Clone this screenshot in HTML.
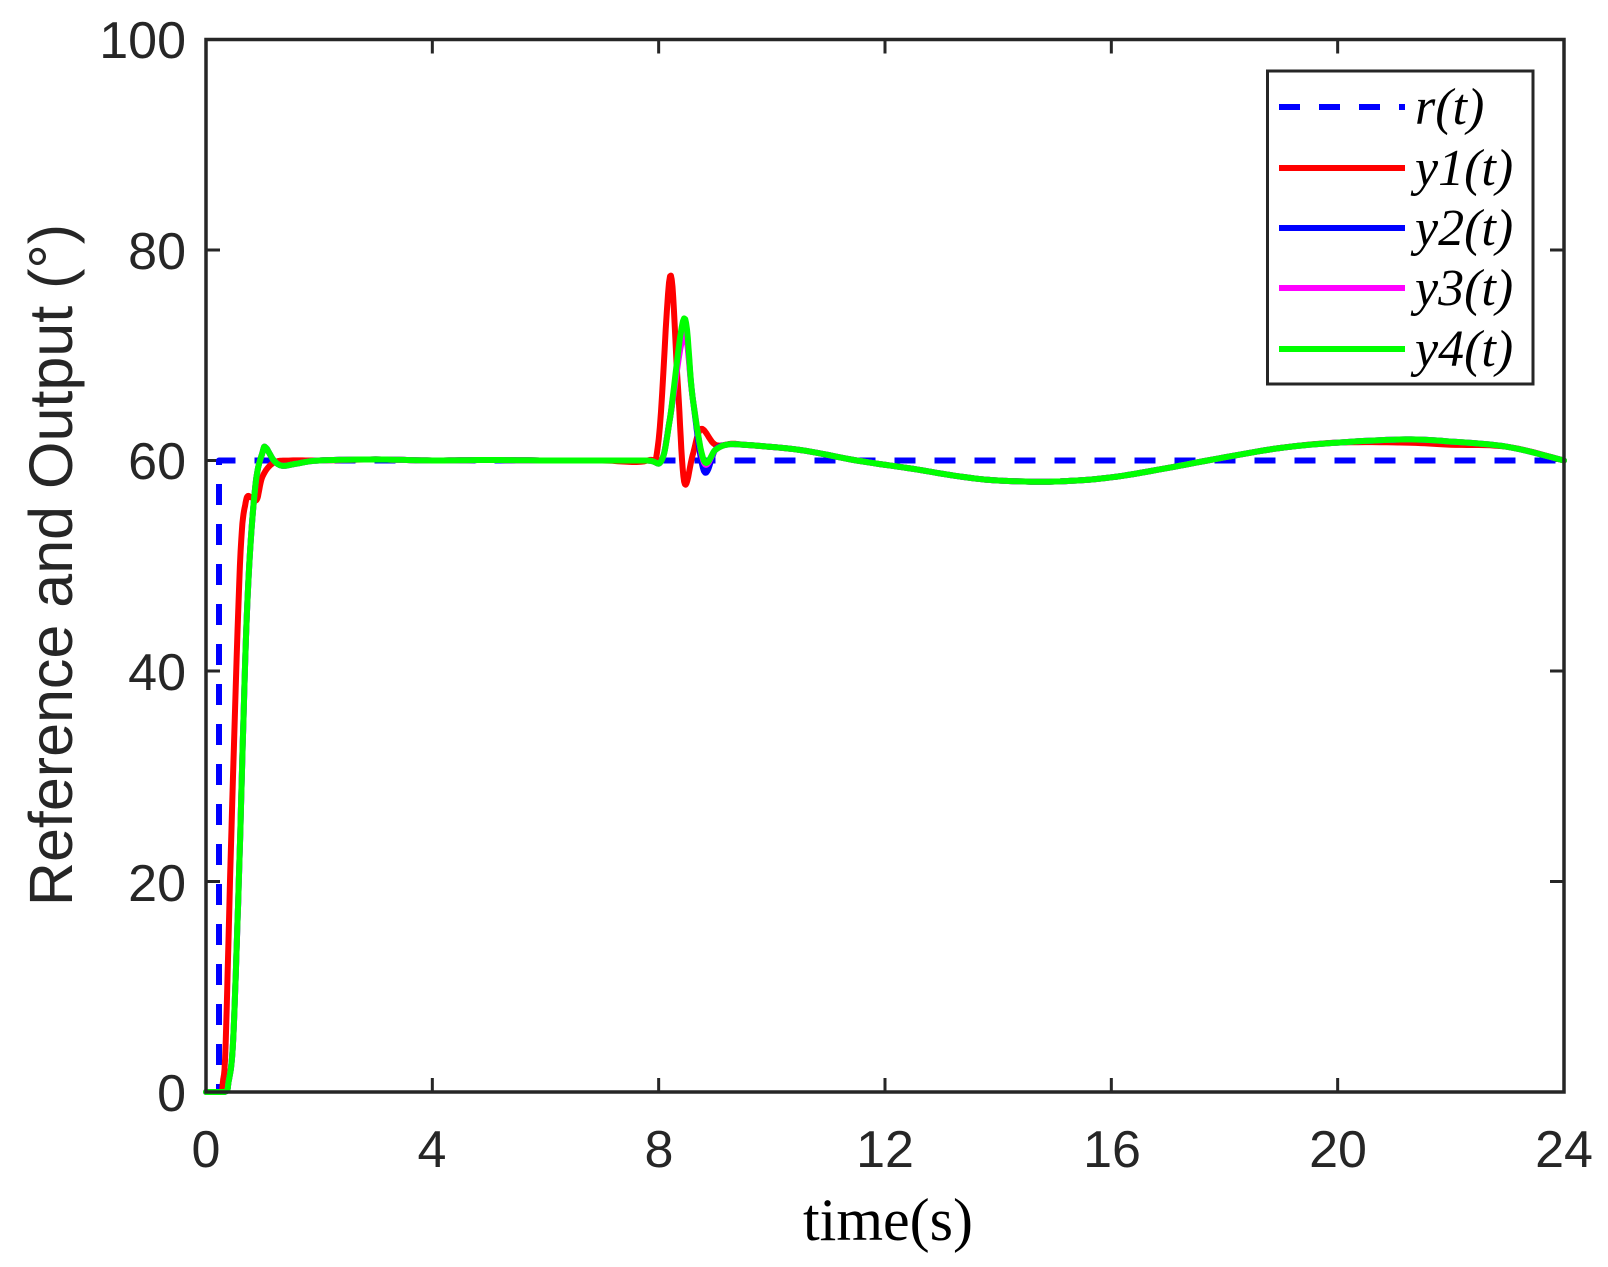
<!DOCTYPE html>
<html><head><meta charset="utf-8"><style>
body{margin:0;background:#fff;}
svg{display:block;}
.t{font-family:"Liberation Sans",sans-serif;font-size:52px;fill:#262626;}
.m{font-family:"Liberation Serif",serif;font-size:52px;fill:#000;font-style:italic;}
</style></head><body>
<svg id="s" width="1608" height="1267" viewBox="0 0 1608 1267" xmlns="http://www.w3.org/2000/svg">
<rect width="1608" height="1267" fill="#fff"/>
<g id="ticks" stroke="#262626" stroke-width="3"></g>
<g id="curves" fill="none" stroke-width="6" stroke-linejoin="round" stroke-linecap="round"></g>
<rect x="206" y="39.5" width="1358" height="1052.5" fill="none" stroke="#262626" stroke-width="3.5"/>
<g class="t" text-anchor="middle">
<text x="206" y="1167">0</text><text x="432" y="1167">4</text><text x="659" y="1167">8</text>
<text x="885" y="1167">12</text><text x="1112" y="1167">16</text><text x="1338" y="1167">20</text><text x="1564" y="1167">24</text>
</g>
<g class="t" text-anchor="end">
<text x="186" y="1111">0</text><text x="186" y="901">20</text><text x="186" y="690">40</text>
<text x="186" y="479">60</text><text x="186" y="269">80</text><text x="186" y="58">100</text>
</g>
<text class="t" style="font-size:61px" transform="translate(72,565) rotate(-90)" text-anchor="middle">Reference and Output (°)</text>
<text x="888" y="1240" text-anchor="middle" style="font-family:'Liberation Serif',serif;font-size:60px;fill:#000">time(s)</text>
<rect x="1267.5" y="71" width="265.5" height="313" fill="#fff" stroke="#262626" stroke-width="3"/>
<line x1="1279" y1="107" x2="1405" y2="107" stroke="#0000ff" stroke-width="6" stroke-dasharray="21 19"/>
<line x1="1279" y1="168" x2="1405" y2="168" stroke="#ff0000" stroke-width="6"/>
<line x1="1279" y1="228" x2="1405" y2="228" stroke="#0000ff" stroke-width="6"/>
<line x1="1279" y1="288" x2="1405" y2="288" stroke="#ff00ff" stroke-width="6"/>
<line x1="1279" y1="349" x2="1405" y2="349" stroke="#00ff00" stroke-width="6"/>
<g class="m">
<text x="1415" y="124">r(t)</text><text x="1415" y="185">y1(t)</text><text x="1415" y="245">y2(t)</text>
<text x="1415" y="305">y3(t)</text><text x="1415" y="366">y4(t)</text>
</g>
</svg>
<script>
const X=t=>206+t*56.583, Y=v=>1092-v*10.525;
const ns="http://www.w3.org/2000/svg";
const tk=document.getElementById('ticks');
let d="";
for(let i=0;i<=6;i++){const x=X(i*4);d+=`M${x} 1092V1078M${x} 39.5V53.5`;}
for(let i=0;i<=5;i++){const y=Y(i*20);d+=`M206 ${y}H220M1564 ${y}H1550`;}
const tp=document.createElementNS(ns,'path');tp.setAttribute('d',d);tk.appendChild(tp);
const tail=[[9.5,61.5],[10.5,61],[11.5,60],[12.5,59.2],[13.3,58.5],[14,58.1],[15,58],[16,58.4],[17,59.3],[18,60.3],[19,61.2],[20,61.7],[21.2,62],[22,61.8],[23,61.3],[24,60]];
const mid=[[2,60],[3,60.1],[4,60],[5,60.05],[6,60],[7,60],[7.8,60]];
const y1=[[0,0],[0.25,0],[0.3,1],[0.35,5],[0.45,25],[0.6,50],[0.7,56],[0.8,56.5],[0.9,56.3],[1.0,58.5],[1.2,59.8],[1.5,60]].concat(mid,[[8.0,62],[8.2,77.5],[8.33,68],[8.45,58],[8.6,60.5],[8.75,63],[9.0,61.5],[9.3,61.6]],tail.map(p=>[p[0],p[1]-(p[0]>20&&p[0]<23?0.3:0)]));
const base=(pk,dip,b)=>[[0,0],[0.33,0],[0.4,1],[0.48,5],[0.58,20],[0.72,45],[0.86,57],[1.0,60.8],[1.06,61.2],[1.2,60],[1.35,59.5],[1.6,59.7]].concat(mid,[[8.05,60],[8.2,64],[8.45,pk],[8.6,66],[8.8,dip],[9.0,61],[9.2,61.5]],tail);
const curves=[
[[[0,0],[0.23,0],[0.23,60],[24,60]],'#0000ff',true],
[y1,'#ff0000'],
[base(72.5,59,0),'#0000ff'],
[base(72,59.8,0),'#ff00ff'],
[base(73.5,60,0),'#00ff00']];
function smooth(p){
 if(p.length<3) return p;
 const out=[];
 for(let i=0;i<p.length-1;i++){
  const p0=p[Math.max(0,i-1)],p1=p[i],p2=p[i+1],p3=p[Math.min(p.length-1,i+2)];
  for(let s=0;s<10;s++){const u=s/10,u2=u*u,u3=u2*u;
   const f=(a,b,c,dd)=>0.5*((2*b)+(-a+c)*u+(2*a-5*b+4*c-dd)*u2+(-a+3*b-3*c+dd)*u3);
   out.push([f(p0[0],p1[0],p2[0],p3[0]),f(p0[1],p1[1],p2[1],p3[1])]);}
 }
 out.push(p[p.length-1]);return out;
}
const g=document.getElementById('curves');
curves.forEach(([pts,c,dash])=>{
 const pp=dash?pts:smooth(pts);
 const pa=document.createElementNS(ns,'path');
 pa.setAttribute('d','M'+pp.map(q=>X(q[0]).toFixed(1)+' '+Y(Math.max(0,q[1])).toFixed(1)).join('L'));
 pa.setAttribute('stroke',c);
 if(dash){pa.setAttribute('stroke-dasharray','21 19');pa.setAttribute('stroke-linecap','butt');}
 g.appendChild(pa);
});
</script>
</body></html>
